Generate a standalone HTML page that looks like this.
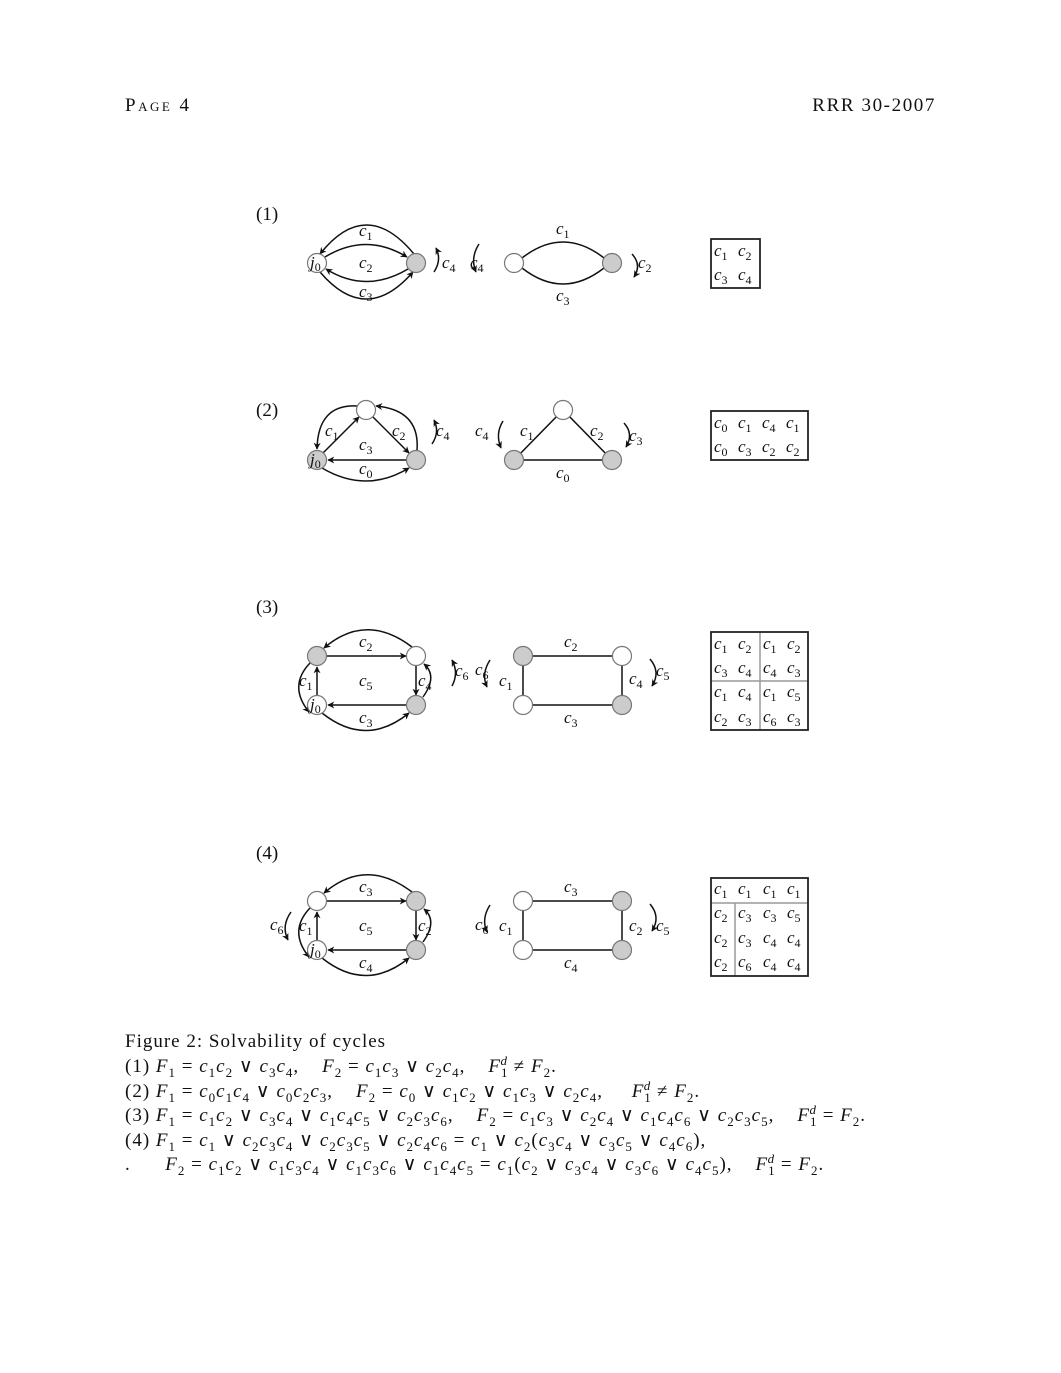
<!DOCTYPE html>
<html><head><meta charset="utf-8">
<style>
body{margin:0;background:#fff;}
#page{position:relative;width:1061px;height:1373px;font-family:"Liberation Serif",serif;color:#111;}
.hdr{position:absolute;top:95px;font-size:19px;}
.cap{position:absolute;left:125px;font-size:19px;white-space:nowrap;letter-spacing:1px;}
.cap i{font-style:italic;}
sub,sup{font-size:13px;line-height:0;}
svg text{font-family:"Liberation Serif",serif;font-size:17px;font-style:italic;fill:#111;}
svg text.n{font-style:normal;font-size:19px;}
svg text tspan.s{font-size:12px;font-style:normal;}
.w{fill:#fff;stroke:#777;stroke-width:1.2;}
.g{fill:#ccc;stroke:#777;stroke-width:1.2;}
.e{fill:none;stroke:#111;stroke-width:1.5;}
.a{fill:none;stroke:#111;stroke-width:1.5;marker-end:url(#ar);}
.tb{fill:none;stroke:#222;stroke-width:1.8;}
.tl{stroke:#999;stroke-width:1.5;}
</style></head><body>
<div id="page">
<div class="hdr" style="left:125px;font-variant:small-caps;letter-spacing:2.5px;">Page 4</div>
<div class="hdr" style="right:125px;letter-spacing:1.6px;">RRR 30-2007</div>

<svg width="1061" height="1373" style="position:absolute;left:0;top:0">
<defs><marker id="ar" viewBox="0 0 10 10" refX="9" refY="5" markerWidth="7" markerHeight="7" orient="auto" markerUnits="userSpaceOnUse"><path d="M0,0 L10,5 L0,10 L3,5 Z" fill="#111"/></marker></defs>

<!-- Panel 1 -->
<g>
<text class="n" x="256" y="220">(1)</text>
<path class="a" d="M414,254 Q366,196 320,254"/>
<path class="a" d="M325,257 Q366,232 407,257"/>
<path class="a" d="M408,269 Q366,294 326,269"/>
<path class="a" d="M320,272 Q366,326 413,272"/>
<path class="a" d="M434,272 Q442,260 436,248"/>
<circle class="w" cx="317" cy="263" r="9.5"/><circle class="g" cx="416" cy="263" r="9.5"/>
<text x="310" y="268">j<tspan class="s" dy="3">0</tspan></text>
<text x="359" y="236">c<tspan class="s" dy="4">1</tspan></text>
<text x="359" y="268">c<tspan class="s" dy="4">2</tspan></text>
<text x="359" y="297">c<tspan class="s" dy="4">3</tspan></text>
<text x="442" y="268">c<tspan class="s" dy="4">4</tspan></text>
<path class="e" d="M522,258 Q563,226 604,258"/><path class="e" d="M522,268 Q563,300 604,268"/>
<path class="a" d="M479,244 Q470,258 476,272"/><text x="470" y="268">c<tspan class="s" dy="4">4</tspan></text>
<path class="a" d="M632,254 Q642,265 634,277"/><text x="638" y="268">c<tspan class="s" dy="4">2</tspan></text>
<circle class="w" cx="514" cy="263" r="9.5"/><circle class="g" cx="612" cy="263" r="9.5"/>
<text x="556" y="234">c<tspan class="s" dy="4">1</tspan></text>
<text x="556" y="301">c<tspan class="s" dy="4">3</tspan></text>
<rect class="tb" x="711" y="239" width="49" height="49"/>
<text x="714" y="256">c<tspan class="s" dy="4">1</tspan></text><text x="738" y="256">c<tspan class="s" dy="4">2</tspan></text>
<text x="714" y="280">c<tspan class="s" dy="4">3</tspan></text><text x="738" y="280">c<tspan class="s" dy="4">4</tspan></text>
</g>

<!-- Panel 2 -->
<g>
<text class="n" x="256" y="416">(2)</text>
<path class="a" d="M323,453 L359,417"/>
<path class="a" d="M373,417 L409,453"/>
<path class="a" d="M406,460 L328,460"/>
<path class="a" d="M322,468 Q366,494 409,468"/>
<path class="a" d="M357,406 Q318,404 317,449"/>
<path class="a" d="M417,450 Q420,410 376,406"/>
<path class="a" d="M432,444 Q440,432 434,420"/>
<circle class="w" cx="366" cy="410" r="9.5"/><circle class="g" cx="317" cy="460" r="9.5"/><circle class="g" cx="416" cy="460" r="9.5"/>
<text x="310" y="465">j<tspan class="s" dy="3">0</tspan></text>
<text x="325" y="436">c<tspan class="s" dy="4">1</tspan></text>
<text x="359" y="450">c<tspan class="s" dy="4">3</tspan></text>
<text x="392" y="436">c<tspan class="s" dy="4">2</tspan></text>
<text x="359" y="474">c<tspan class="s" dy="4">0</tspan></text>
<text x="436" y="436">c<tspan class="s" dy="4">4</tspan></text>
<path class="e" d="M514,460 L563,410 L612,460 Z"/>
<path class="a" d="M503,421 Q495,434 501,448"/><text x="475" y="436">c<tspan class="s" dy="4">4</tspan></text>
<path class="a" d="M624,423 Q634,434 626,447"/><text x="629" y="441">c<tspan class="s" dy="4">3</tspan></text>
<circle class="w" cx="563" cy="410" r="9.5"/><circle class="g" cx="514" cy="460" r="9.5"/><circle class="g" cx="612" cy="460" r="9.5"/>
<text x="520" y="436">c<tspan class="s" dy="4">1</tspan></text>
<text x="590" y="436">c<tspan class="s" dy="4">2</tspan></text>
<text x="556" y="478">c<tspan class="s" dy="4">0</tspan></text>
<rect class="tb" x="711" y="411" width="97" height="49"/>
<text x="714" y="428">c<tspan class="s" dy="4">0</tspan></text><text x="738" y="428">c<tspan class="s" dy="4">1</tspan></text><text x="762" y="428">c<tspan class="s" dy="4">4</tspan></text><text x="786" y="428">c<tspan class="s" dy="4">1</tspan></text>
<text x="714" y="452">c<tspan class="s" dy="4">0</tspan></text><text x="738" y="452">c<tspan class="s" dy="4">3</tspan></text><text x="762" y="452">c<tspan class="s" dy="4">2</tspan></text><text x="786" y="452">c<tspan class="s" dy="4">2</tspan></text>
</g>

<!-- Panel 3 -->
<g>
<text class="n" x="256" y="613">(3)</text>
<path class="a" d="M327,656 L406,656"/>
<path class="a" d="M416,666 L416,695"/>
<path class="a" d="M406,705 L328,705"/>
<path class="a" d="M317,696 L317,667"/>
<path class="a" d="M412,647 Q366,612 324,648"/>
<path class="a" d="M322,713 Q366,748 409,713"/>
<path class="a" d="M310,663 Q288,686 309,712"/>
<path class="a" d="M423,697 Q438,676 424,664"/>
<path class="a" d="M452,686 Q459,673 452,660"/>
<circle class="g" cx="317" cy="656" r="9.5"/><circle class="w" cx="416" cy="656" r="9.5"/><circle class="w" cx="317" cy="705" r="9.5"/><circle class="g" cx="416" cy="705" r="9.5"/>
<text x="310" y="710">j<tspan class="s" dy="3">0</tspan></text>
<text x="359" y="647">c<tspan class="s" dy="4">2</tspan></text>
<text x="359" y="686">c<tspan class="s" dy="4">5</tspan></text>
<text x="299" y="686">c<tspan class="s" dy="4">1</tspan></text>
<text x="418" y="686">c<tspan class="s" dy="4">4</tspan></text>
<text x="359" y="723">c<tspan class="s" dy="4">3</tspan></text>
<text x="455" y="676">c<tspan class="s" dy="4">6</tspan></text>
<path class="e" d="M523,656 L622,656 L622,705 L523,705 Z"/>
<path class="a" d="M490,660 Q481,674 487,687"/><text x="475" y="675">c<tspan class="s" dy="4">6</tspan></text>
<path class="a" d="M650,659 Q661,672 652,686"/><text x="656" y="676">c<tspan class="s" dy="4">5</tspan></text>
<circle class="g" cx="523" cy="656" r="9.5"/><circle class="w" cx="622" cy="656" r="9.5"/><circle class="w" cx="523" cy="705" r="9.5"/><circle class="g" cx="622" cy="705" r="9.5"/>
<text x="564" y="647">c<tspan class="s" dy="4">2</tspan></text>
<text x="499" y="686">c<tspan class="s" dy="4">1</tspan></text>
<text x="629" y="684">c<tspan class="s" dy="4">4</tspan></text>
<text x="564" y="723">c<tspan class="s" dy="4">3</tspan></text>
<line class="tl" x1="760" y1="632" x2="760" y2="730"/><line class="tl" x1="711" y1="681" x2="808" y2="681"/>
<rect class="tb" x="711" y="632" width="97" height="98"/>
<text x="714" y="649">c<tspan class="s" dy="4">1</tspan></text><text x="738" y="649">c<tspan class="s" dy="4">2</tspan></text><text x="763" y="649">c<tspan class="s" dy="4">1</tspan></text><text x="787" y="649">c<tspan class="s" dy="4">2</tspan></text>
<text x="714" y="673">c<tspan class="s" dy="4">3</tspan></text><text x="738" y="673">c<tspan class="s" dy="4">4</tspan></text><text x="763" y="673">c<tspan class="s" dy="4">4</tspan></text><text x="787" y="673">c<tspan class="s" dy="4">3</tspan></text>
<text x="714" y="697">c<tspan class="s" dy="4">1</tspan></text><text x="738" y="697">c<tspan class="s" dy="4">4</tspan></text><text x="763" y="697">c<tspan class="s" dy="4">1</tspan></text><text x="787" y="697">c<tspan class="s" dy="4">5</tspan></text>
<text x="714" y="722">c<tspan class="s" dy="4">2</tspan></text><text x="738" y="722">c<tspan class="s" dy="4">3</tspan></text><text x="763" y="722">c<tspan class="s" dy="4">6</tspan></text><text x="787" y="722">c<tspan class="s" dy="4">3</tspan></text>
</g>

<!-- Panel 4 -->
<g>
<text class="n" x="256" y="859">(4)</text>
<path class="a" d="M327,901 L406,901"/>
<path class="a" d="M416,911 L416,940"/>
<path class="a" d="M406,950 L328,950"/>
<path class="a" d="M317,941 L317,912"/>
<path class="a" d="M412,892 Q366,857 324,893"/>
<path class="a" d="M322,958 Q366,993 409,958"/>
<path class="a" d="M310,908 Q288,931 309,957"/>
<path class="a" d="M423,942 Q438,921 424,909"/>
<path class="a" d="M291,912 Q281,926 288,940"/><text x="270" y="930">c<tspan class="s" dy="4">6</tspan></text>
<circle class="w" cx="317" cy="901" r="9.5"/><circle class="g" cx="416" cy="901" r="9.5"/><circle class="w" cx="317" cy="950" r="9.5"/><circle class="g" cx="416" cy="950" r="9.5"/>
<text x="310" y="955">j<tspan class="s" dy="3">0</tspan></text>
<text x="359" y="892">c<tspan class="s" dy="4">3</tspan></text>
<text x="359" y="931">c<tspan class="s" dy="4">5</tspan></text>
<text x="299" y="931">c<tspan class="s" dy="4">1</tspan></text>
<text x="418" y="931">c<tspan class="s" dy="4">2</tspan></text>
<text x="359" y="968">c<tspan class="s" dy="4">4</tspan></text>
<path class="e" d="M523,901 L622,901 L622,950 L523,950 Z"/>
<path class="a" d="M490,905 Q481,919 487,932"/><text x="475" y="930">c<tspan class="s" dy="4">6</tspan></text>
<path class="a" d="M650,904 Q661,917 652,931"/><text x="656" y="931">c<tspan class="s" dy="4">5</tspan></text>
<circle class="w" cx="523" cy="901" r="9.5"/><circle class="g" cx="622" cy="901" r="9.5"/><circle class="w" cx="523" cy="950" r="9.5"/><circle class="g" cx="622" cy="950" r="9.5"/>
<text x="564" y="892">c<tspan class="s" dy="4">3</tspan></text>
<text x="499" y="931">c<tspan class="s" dy="4">1</tspan></text>
<text x="629" y="931">c<tspan class="s" dy="4">2</tspan></text>
<text x="564" y="968">c<tspan class="s" dy="4">4</tspan></text>
<line class="tl" x1="711" y1="903" x2="808" y2="903"/><line class="tl" x1="735" y1="903" x2="735" y2="976"/>
<rect class="tb" x="711" y="878" width="97" height="98"/>
<text x="714" y="894">c<tspan class="s" dy="4">1</tspan></text><text x="738" y="894">c<tspan class="s" dy="4">1</tspan></text><text x="763" y="894">c<tspan class="s" dy="4">1</tspan></text><text x="787" y="894">c<tspan class="s" dy="4">1</tspan></text>
<text x="714" y="918">c<tspan class="s" dy="4">2</tspan></text><text x="738" y="918">c<tspan class="s" dy="4">3</tspan></text><text x="763" y="918">c<tspan class="s" dy="4">3</tspan></text><text x="787" y="918">c<tspan class="s" dy="4">5</tspan></text>
<text x="714" y="943">c<tspan class="s" dy="4">2</tspan></text><text x="738" y="943">c<tspan class="s" dy="4">3</tspan></text><text x="763" y="943">c<tspan class="s" dy="4">4</tspan></text><text x="787" y="943">c<tspan class="s" dy="4">4</tspan></text>
<text x="714" y="967">c<tspan class="s" dy="4">2</tspan></text><text x="738" y="967">c<tspan class="s" dy="4">6</tspan></text><text x="763" y="967">c<tspan class="s" dy="4">4</tspan></text><text x="787" y="967">c<tspan class="s" dy="4">4</tspan></text>
</g>
</svg>

<div class="cap" style="top:1031px">Figure 2: Solvability of cycles</div>
<div class="cap" style="top:1055px">(1) <i>F</i><sub>1</sub> = <i>c</i><sub>1</sub><i>c</i><sub>2</sub> ∨ <i>c</i><sub>3</sub><i>c</i><sub>4</sub>, &nbsp;&nbsp; <i>F</i><sub>2</sub> = <i>c</i><sub>1</sub><i>c</i><sub>3</sub> ∨ <i>c</i><sub>2</sub><i>c</i><sub>4</sub>, &nbsp;&nbsp; <i>F</i><sub>1</sub><sup style="margin-left:-8px"><i>d</i></sup> ≠ <i>F</i><sub>2</sub>.</div>
<div class="cap" style="top:1080px">(2) <i>F</i><sub>1</sub> = <i>c</i><sub>0</sub><i>c</i><sub>1</sub><i>c</i><sub>4</sub> ∨ <i>c</i><sub>0</sub><i>c</i><sub>2</sub><i>c</i><sub>3</sub>, &nbsp;&nbsp; <i>F</i><sub>2</sub> = <i>c</i><sub>0</sub> ∨ <i>c</i><sub>1</sub><i>c</i><sub>2</sub> ∨ <i>c</i><sub>1</sub><i>c</i><sub>3</sub> ∨ <i>c</i><sub>2</sub><i>c</i><sub>4</sub>, &nbsp;&nbsp;&nbsp; <i>F</i><sub>1</sub><sup style="margin-left:-8px"><i>d</i></sup> ≠ <i>F</i><sub>2</sub>.</div>
<div class="cap" style="top:1104px">(3) <i>F</i><sub>1</sub> = <i>c</i><sub>1</sub><i>c</i><sub>2</sub> ∨ <i>c</i><sub>3</sub><i>c</i><sub>4</sub> ∨ <i>c</i><sub>1</sub><i>c</i><sub>4</sub><i>c</i><sub>5</sub> ∨ <i>c</i><sub>2</sub><i>c</i><sub>3</sub><i>c</i><sub>6</sub>, &nbsp;&nbsp; <i>F</i><sub>2</sub> = <i>c</i><sub>1</sub><i>c</i><sub>3</sub> ∨ <i>c</i><sub>2</sub><i>c</i><sub>4</sub> ∨ <i>c</i><sub>1</sub><i>c</i><sub>4</sub><i>c</i><sub>6</sub> ∨ <i>c</i><sub>2</sub><i>c</i><sub>3</sub><i>c</i><sub>5</sub>, &nbsp;&nbsp; <i>F</i><sub>1</sub><sup style="margin-left:-8px"><i>d</i></sup> = <i>F</i><sub>2</sub>.</div>
<div class="cap" style="top:1129px">(4) <i>F</i><sub>1</sub> = <i>c</i><sub>1</sub> ∨ <i>c</i><sub>2</sub><i>c</i><sub>3</sub><i>c</i><sub>4</sub> ∨ <i>c</i><sub>2</sub><i>c</i><sub>3</sub><i>c</i><sub>5</sub> ∨ <i>c</i><sub>2</sub><i>c</i><sub>4</sub><i>c</i><sub>6</sub> = <i>c</i><sub>1</sub> ∨ <i>c</i><sub>2</sub>(<i>c</i><sub>3</sub><i>c</i><sub>4</sub> ∨ <i>c</i><sub>3</sub><i>c</i><sub>5</sub> ∨ <i>c</i><sub>4</sub><i>c</i><sub>6</sub>),</div>
<div class="cap" style="top:1153px">. &nbsp;&nbsp;&nbsp;&nbsp; <i>F</i><sub>2</sub> = <i>c</i><sub>1</sub><i>c</i><sub>2</sub> ∨ <i>c</i><sub>1</sub><i>c</i><sub>3</sub><i>c</i><sub>4</sub> ∨ <i>c</i><sub>1</sub><i>c</i><sub>3</sub><i>c</i><sub>6</sub> ∨ <i>c</i><sub>1</sub><i>c</i><sub>4</sub><i>c</i><sub>5</sub> = <i>c</i><sub>1</sub>(<i>c</i><sub>2</sub> ∨ <i>c</i><sub>3</sub><i>c</i><sub>4</sub> ∨ <i>c</i><sub>3</sub><i>c</i><sub>6</sub> ∨ <i>c</i><sub>4</sub><i>c</i><sub>5</sub>), &nbsp;&nbsp; <i>F</i><sub>1</sub><sup style="margin-left:-8px"><i>d</i></sup> = <i>F</i><sub>2</sub>.</div>
</div>
</body></html>
